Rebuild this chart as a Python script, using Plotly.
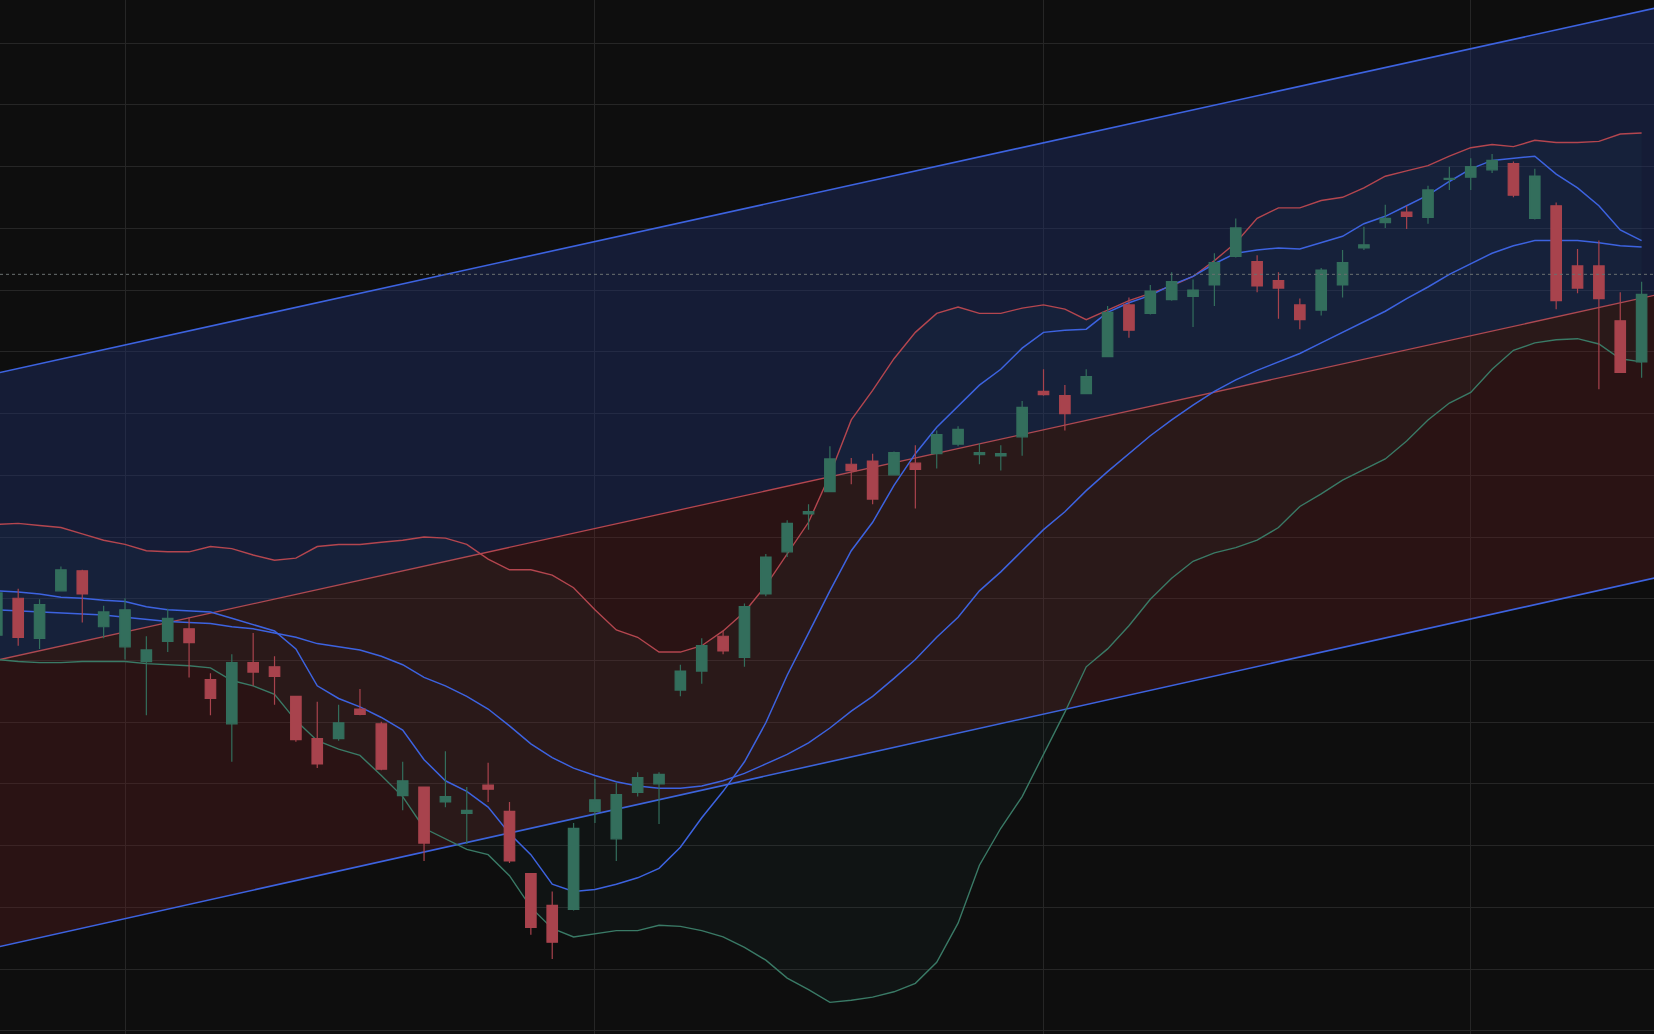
import plotly.graph_objects as go

idx = list(range(78))
opens = [39.8,43.3,39.5,44.0,45.9,40.6,38.7,37.3,39.2,40.4,35.6,31.4,37.2,36.8,34.0,30.0,30.0,32.8,31.4,24.6,25.4,24.0,22.9,25.6,23.1,17.2,14.2,13.8,23.1,20.5,
         24.9,25.7,34.6,36.4,39.7,37.7,43.7,47.7,51.3,53.4,56.0,56.3,55.0,56.1,57.0,57.9,56.9,56.8,58.6,62.9,62.5,62.7,66.2,71.1,70.3,71.6,71.9,73.0,75.7,75.2,
         73.4,71.1,70.6,73.0,76.5,78.9,79.9,79.4,83.0,83.2,83.9,84.5,79.3,80.5,74.8,74.8,69.6,65.7]
highs = [44.0,44.2,43.2,46.3,46.0,42.6,43.3,39.7,42.3,41.5,36.2,38.0,40.0,37.8,34.0,33.5,33.2,34.7,31.6,27.8,25.4,28.8,25.4,27.7,24.0,17.2,15.5,22.0,26.2,25.8,
         26.8,26.8,37.0,39.5,40.2,42.8,47.5,50.7,52.2,57.7,56.6,57.0,57.2,57.8,59.2,59.6,58.0,57.8,62.0,65.0,63.5,65.0,71.0,71.8,73.0,74.2,73.5,76.0,79.3,75.8,
         74.2,71.7,74.6,76.3,78.5,80.6,80.5,82.4,84.2,85.0,85.4,84.7,84.0,80.8,76.4,77.2,72.3,73.3]
lows = [39.5,38.8,38.5,44.0,41.0,39.5,37.5,32.2,38.2,35.8,32.2,27.8,35.0,33.2,29.7,27.2,29.8,32.2,27.0,23.2,18.4,23.5,20.0,24.0,18.2,11.4,9.1,13.7,22.0,18.4,
        24.5,21.9,34.0,35.2,38.0,36.8,43.5,47.2,49.8,53.4,54.1,52.2,55.0,51.8,55.6,57.7,56.0,55.4,56.8,62.5,59.2,62.7,66.2,68.0,70.2,71.5,69.0,71.0,75.6,72.3,
        69.8,68.8,70.1,71.8,76.3,78.4,78.3,78.8,82.0,82.0,83.6,81.3,79.2,70.7,72.2,63.1,64.7,64.2]
closes = [43.8,39.6,42.7,46.0,43.7,42.0,42.2,38.4,41.4,39.1,33.8,37.2,36.3,35.9,29.9,27.6,31.5,32.3,27.1,26.0,20.1,24.5,23.2,25.2,18.4,12.1,10.7,21.5,24.2,24.7,
          26.3,26.6,36.4,38.8,38.3,42.5,47.2,50.4,51.5,56.5,55.4,52.7,57.1,55.5,58.8,59.3,57.1,57.0,61.4,62.6,60.8,64.3,70.4,68.7,72.4,73.3,72.5,75.1,78.4,72.9,
          72.7,69.7,74.4,75.1,76.8,79.3,79.5,82.0,83.1,84.2,84.8,81.5,83.3,71.5,72.7,71.7,64.7,72.1]
fast_ma = [44.0,43.9,43.7,43.4,43.3,43.1,43.0,42.5,42.2,42.1,42.0,41.4,40.8,40.2,38.5,35.0,33.8,33.0,32.0,30.8,28.0,26.0,25.0,23.5,21.0,19.0,16.2,15.5,15.7,16.2,
           16.8,17.7,19.7,22.5,25.0,27.8,31.5,36.0,40.0,44.0,47.8,50.5,54.0,57.0,59.5,61.5,63.5,65.0,67.0,68.5,68.7,68.8,70.4,71.3,72.0,73.0,73.8,75.0,76.0,76.3,
           76.5,76.4,77.0,77.6,78.8,79.5,80.5,81.5,82.8,84.0,84.8,85.0,85.2,83.5,82.2,80.5,78.2,77.2]
slow_ma = [42.2,42.1,42.0,41.9,41.8,41.7,41.5,41.3,41.1,41.0,40.9,40.6,40.4,40.0,39.6,39.0,38.7,38.4,37.8,37.0,35.8,35.0,34.0,32.8,31.2,29.5,28.2,27.2,26.5,25.9,
           25.5,25.3,25.3,25.5,26.0,26.7,27.6,28.5,29.6,31.0,32.6,34.0,35.7,37.5,39.6,41.5,44.0,45.8,47.8,49.8,51.5,53.5,55.3,57.0,58.7,60.2,61.6,62.9,64.0,64.9,
           65.7,66.5,67.5,68.5,69.5,70.5,71.7,72.8,74.0,75.0,76.0,76.7,77.2,77.2,77.2,77.0,76.7,76.6]
upper_band = [50.3,50.4,50.2,50.0,49.4,48.8,48.4,47.8,47.7,47.7,48.2,48.0,47.4,46.9,47.1,48.2,48.4,48.4,48.6,48.8,49.1,49.0,48.4,47.0,46.0,46.0,45.5,44.3,42.2,40.3,
              39.6,38.2,38.2,38.8,40.2,42.0,44.5,47.5,50.5,55.0,60.2,63.0,66.0,68.5,70.3,70.9,70.3,70.3,70.8,71.1,70.7,69.7,70.6,71.5,72.2,72.9,73.8,75.3,77.0,79.3,
              80.3,80.3,81.0,81.3,82.2,83.3,83.8,84.3,85.2,86.0,86.3,86.1,86.7,86.5,86.5,86.6,87.3,87.4]
lower_band = [37.5,37.3,37.2,37.2,37.3,37.3,37.3,37.1,37.0,36.9,36.7,35.5,35.0,34.2,31.7,29.8,29.0,28.4,26.5,24.5,21.5,20.5,19.5,19.0,17.0,14.0,12.0,11.2,11.5,11.8,
              11.8,12.3,12.2,11.8,11.2,10.2,9.0,7.3,6.2,5.0,5.2,5.5,6.0,6.8,8.8,12.5,18.0,21.5,24.5,28.5,32.5,36.8,38.5,40.7,43.2,45.2,46.8,47.6,48.1,48.8,
              50.0,52.0,53.2,54.5,55.5,56.5,58.2,60.2,61.8,62.8,65.0,66.8,67.5,67.8,67.9,67.4,66.0,65.7]
channel_x = [0, 78]
channel_top = [64.63, 99.39]
channel_mid = [37.43, 72.19]
channel_bot = [10.23, 45.39]
last_price = 74.0
grid_x = [6, 28, 49, 69]

BLUE = "#3d63e0"
RED = "#b4464f"
GREEN = "#3a7a66"
Y_RANGE = [2, 100]

fig = go.Figure()
fig.add_trace(go.Scatter(x=channel_x, y=channel_top, mode="lines", line=dict(color=BLUE, width=1.6)))
fig.add_trace(go.Scatter(x=channel_x, y=channel_mid, mode="lines", line=dict(color=RED, width=1.3),
                         fill="tonexty", fillcolor="rgba(30,48,110,0.42)"))
fig.add_trace(go.Scatter(x=channel_x, y=channel_bot, mode="lines", line=dict(color=BLUE, width=1.6),
                         fill="tonexty", fillcolor="rgba(110,32,38,0.3)"))
fig.add_trace(go.Scatter(x=idx, y=upper_band, mode="lines", line=dict(color=RED, width=1.4)))
fig.add_trace(go.Scatter(x=idx, y=lower_band, mode="lines", line=dict(color=GREEN, width=1.4),
                         fill="tonexty", fillcolor="rgba(60,140,130,0.05)"))
fig.add_trace(go.Scatter(x=idx, y=slow_ma, mode="lines", line=dict(color=BLUE, width=1.5)))
fig.add_trace(go.Scatter(x=idx, y=fast_ma, mode="lines", line=dict(color=BLUE, width=1.5)))
fig.add_trace(go.Candlestick(x=idx, open=opens, high=highs, low=lows, close=closes, whiskerwidth=0, yaxis="y2",
                             increasing=dict(line=dict(color="#336e5c", width=1.2), fillcolor="#336e5c"),
                             decreasing=dict(line=dict(color="#a8434d", width=1.2), fillcolor="#a8434d")))
fig.add_hline(y=last_price, line=dict(color="#6a7070", width=1, dash="dot"))

fig.update_layout(width=1654, height=1034, margin=dict(l=0, r=0, t=0, b=0),
                  paper_bgcolor="#0e0e0e", plot_bgcolor="#0e0e0e", showlegend=False,
                  xaxis=dict(range=[0.148, 77.58], tickvals=grid_x, showticklabels=False,
                             gridcolor="#262626", zeroline=False, rangeslider=dict(visible=False)),
                  yaxis=dict(range=Y_RANGE, tick0=2.3, dtick=5.85, showticklabels=False,
                             gridcolor="#262626", zeroline=False),
                  yaxis2=dict(range=Y_RANGE, overlaying="y", showticklabels=False,
                              showgrid=False, zeroline=False))
fig.write_html("out.html", config={"displayModeBar": False},
               post_script="document.body.style.margin='0';document.body.style.background='#0e0e0e';")
